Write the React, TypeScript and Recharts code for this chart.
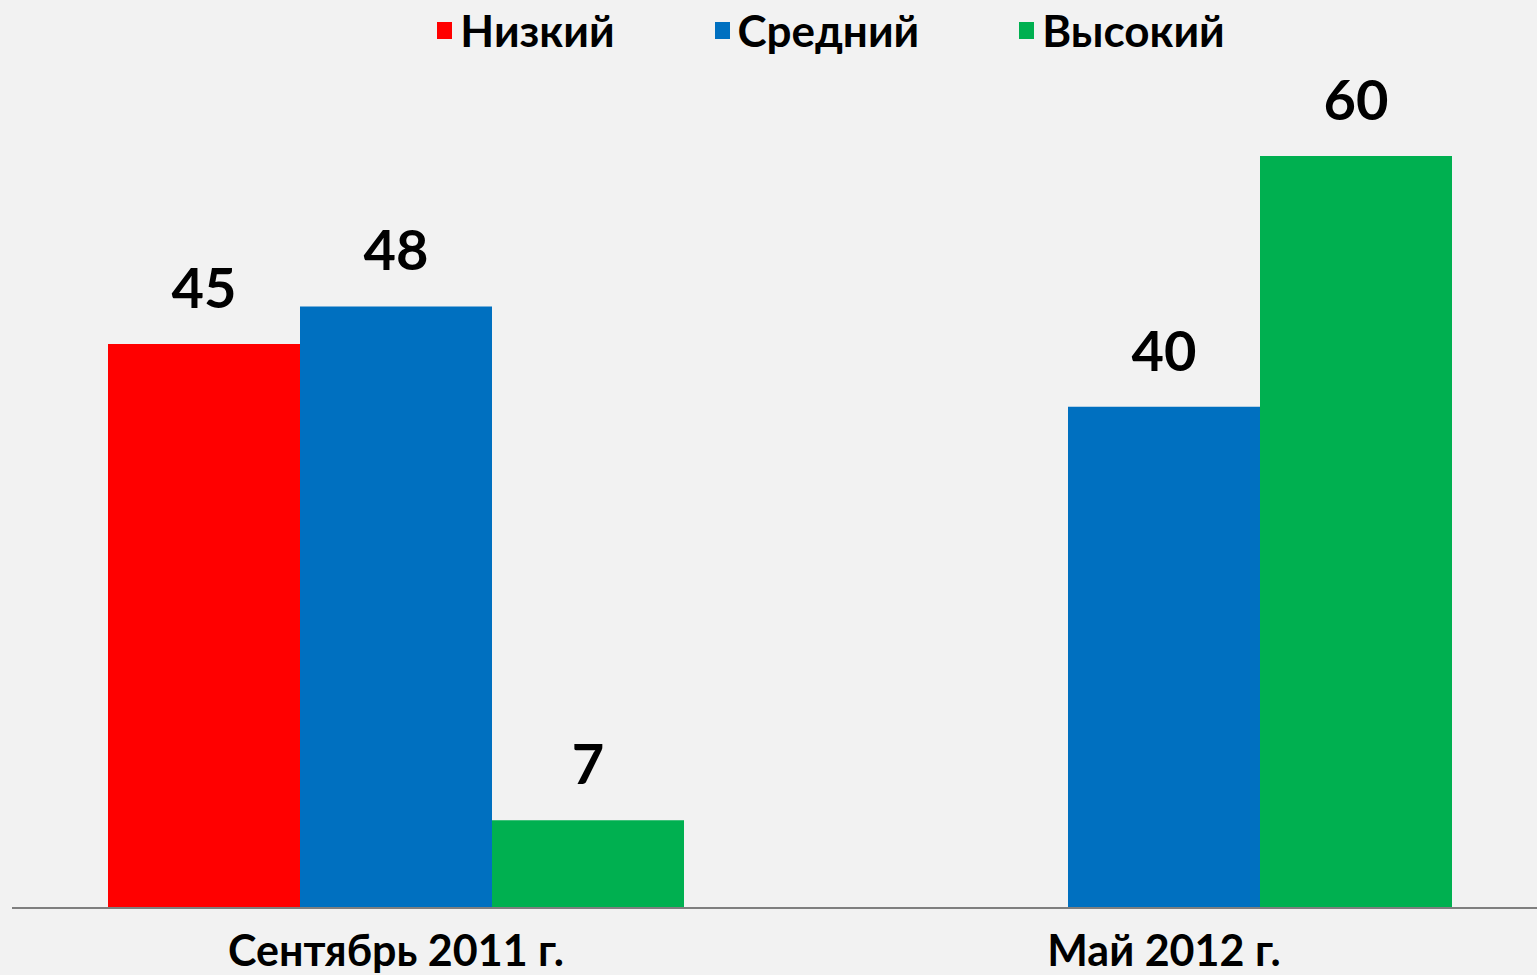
import { Bar, BarChart, XAxis, YAxis, Legend, LabelList } from "recharts"

const categories = ["Сентябрь 2011 г.", "Май 2012 г."]
const low: (number | null)[] = [45, null]
const mid = [48, 40]
const high = [7, 60]

const series = [
  { key: "low", name: "Низкий", color: "#ff0000" },
  { key: "mid", name: "Средний", color: "#0070c0" },
  { key: "high", name: "Высокий", color: "#00b050" },
]

const data = categories.map((c, i) => ({ cat: c, low: low[i], mid: mid[i], high: high[i] }))

const font = "Lato, 'Open Sans', sans-serif"

function LegendRow() {
  return (
    <div style={{ display: "flex", justifyContent: "center", gap: 100, paddingLeft: 125, fontFamily: font, fontWeight: 700, fontSize: 44, color: "#000", lineHeight: "60px" }}>
      {series.map((s) => (
        <div key={s.key} style={{ display: "flex", alignItems: "center" }}>
          <div style={{ width: 15, height: 17, background: s.color, marginRight: 8 }} />
          <span>{s.name}</span>
        </div>
      ))}
    </div>
  )
}

export default function App() {
  return (
    <div style={{ position: "fixed", left: 0, top: 0, width: 1537, height: 975, overflow: "hidden", background: "#f2f2f2" }}>
      <BarChart width={1548} height={975} data={data} margin={{ top: 96, right: 0, left: 12, bottom: 37 }} barCategoryGap="12.5%" barGap={0}>
        <Legend verticalAlign="top" content={<LegendRow />} wrapperStyle={{ top: 0, left: 0, width: 1537 }} />
        <XAxis
          dataKey="cat"
          axisLine={{ stroke: "#7f7f7f", strokeWidth: 2 }}
          tickLine={false}
          tickMargin={21}
          tick={{ fill: "#000", fontSize: 43, fontWeight: 700, fontFamily: font }}
        />
        <YAxis hide domain={[0, 60]} />
        {series.map((s) => (
          <Bar key={s.key} dataKey={s.key} name={s.name} fill={s.color} isAnimationActive={false}>
            <LabelList
              dataKey={s.key}
              position="top"
              offset={36}
              formatter={(v: any) => (v == null ? "" : v)}
              style={{ fill: "#000", fontSize: 56, fontWeight: 700, fontFamily: font }}
            />
          </Bar>
        ))}
      </BarChart>
    </div>
  )
}
